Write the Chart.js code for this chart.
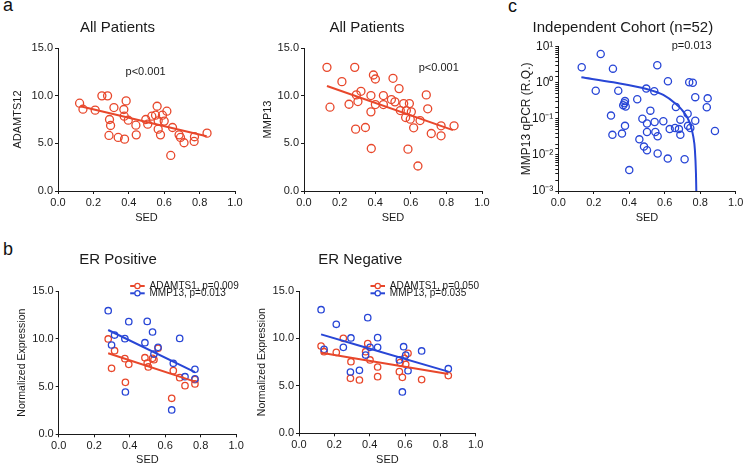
<!DOCTYPE html>
<html>
<head>
<meta charset="utf-8">
<script src="https://cdn.jsdelivr.net/npm/chart.js@4.4.1/dist/chart.umd.min.js"></script>
<style>
  html, body { margin: 0; padding: 0; background: #fff; width: 745px; height: 467px; overflow: hidden; }
  body { position: relative; font-family: "Liberation Sans", Arial, Helvetica, sans-serif; }
  .panel { position: absolute; }
  .tag { position: absolute; font-size: 18px; line-height: 18px; color: #111; }
</style>
</head>
<body>
<div class="tag" style="left:3px;top:-4px">a</div>
<div class="tag" style="left:3px;top:240px">b</div>
<div class="tag" style="left:508px;top:-3px">c</div>

<div class="panel" style="left:0px;top:16px;width:265px;height:214px"><canvas id="a1"></canvas></div>
<div class="panel" style="left:252px;top:16px;width:248px;height:214px"><canvas id="a2"></canvas></div>
<div class="panel" style="left:510px;top:16px;width:255px;height:214px"><canvas id="c1"></canvas></div>
<div class="panel" style="left:0px;top:250px;width:277px;height:217px"><canvas id="b1"></canvas></div>
<div class="panel" style="left:245px;top:250px;width:286px;height:217px"><canvas id="b2"></canvas></div>

<script>
// ---- data ----
// a: all patients
const allSedAdamts = [0.122, 0.141, 0.21, 0.248, 0.28, 0.316, 0.291, 0.297, 0.288, 0.34, 0.376, 0.385, 0.372, 0.374, 0.397, 0.44, 0.442, 0.496,
  0.507, 0.53, 0.551, 0.56, 0.566, 0.566, 0.579, 0.59, 0.6, 0.615, 0.647, 0.637, 0.684, 0.692, 0.712, 0.771, 0.769, 0.842];
const allAdamts12 = [9.21, 8.58, 8.48, 9.98, 9.98, 8.75, 7.5, 6.87, 5.83, 5.62, 5.44, 9.45, 8.55, 7.85, 7.43, 6.9, 5.89, 7.5,
  7.01, 7.85, 7.95, 8.89, 7.36, 6.49, 5.89, 7.95, 7.33, 8.37, 6.66, 3.73, 5.89, 5.62, 5.06, 5.69, 5.2, 6.07];
const allFitAdamtsX = [0.126, 0.84];
const allFitAdamtsY = [8.9, 5.75];

const allSedMmp = [0.129, 0.146, 0.213, 0.253, 0.285, 0.29, 0.294, 0.303, 0.32, 0.345, 0.378, 0.376, 0.376, 0.39, 0.401, 0.401, 0.446, 0.446,
  0.491, 0.5, 0.511, 0.534, 0.541, 0.56, 0.571, 0.575, 0.592, 0.597, 0.603, 0.584, 0.616, 0.64, 0.652, 0.687, 0.695, 0.715, 0.77, 0.77, 0.843];
const allMmp13 = [12.97, 8.79, 11.47, 9.1, 12.97, 6.49, 10.08, 9.38, 10.46, 6.66, 4.46, 8.3, 10.01, 12.17, 11.75, 9.07, 10.01, 9.07,
  9.59, 11.82, 9.35, 10.74, 8.44, 9.17, 7.71, 8.44, 9.17, 7.53, 8.3, 4.39, 6.63, 2.62, 7.39, 10.08, 8.62, 6.03, 5.79, 6.84, 6.84];
const allFitMmpX = [0.129, 0.837];
const allFitMmpY = [11.02, 6.38];

// b: ER positive
const posSedAdamts = [0.279, 0.298, 0.315, 0.373, 0.376, 0.395, 0.486, 0.499, 0.505, 0.529, 0.537, 0.56, 0.637, 0.646, 0.682, 0.712, 0.768, 0.768];
const posAdamts1 = [9.98, 6.91, 8.75, 7.92, 5.44, 7.32, 8.02, 7.46, 7.05, 7.95, 7.81, 9.0, 3.77, 6.66, 5.93, 5.09, 5.72, 5.27];
const posSedMmp = [0.279, 0.298, 0.315, 0.373, 0.376, 0.395, 0.486, 0.499, 0.529, 0.537, 0.56, 0.637, 0.646, 0.682, 0.712, 0.768, 0.768];
const posMmp13 = [12.94, 9.35, 10.39, 10.01, 4.43, 11.79, 9.59, 11.82, 10.71, 8.4, 9.1, 2.55, 7.43, 10.04, 6.03, 6.8, 5.8];
const posFitX = [0.279, 0.768];
const posFitAdamtsY = [8.48, 5.51];
const posFitMmpY = [10.92, 6.5];
const posKeys = ['ADAMTS1, p=0.009', 'MMP13, p=0.013'];

// b: ER negative
const negSedAdamts = [0.125, 0.142, 0.211, 0.251, 0.294, 0.291, 0.342, 0.377, 0.389, 0.402, 0.445, 0.445, 0.568, 0.572, 0.585, 0.596, 0.604, 0.617, 0.694, 0.845];
const negAdamts1 = [9.2, 8.6, 8.53, 10.01, 7.55, 5.8, 5.62, 8.6, 9.45, 7.73, 6.99, 5.97, 6.5, 7.45, 5.9, 7.9, 7.27, 8.43, 5.66, 6.08];
const negSedMmp = [0.125, 0.142, 0.211, 0.251, 0.294, 0.291, 0.342, 0.377, 0.389, 0.402, 0.445, 0.445, 0.568, 0.585, 0.592, 0.604, 0.617, 0.694, 0.845];
const negMmp13 = [13.03, 8.85, 11.49, 9.06, 10.05, 6.46, 6.64, 8.25, 12.19, 9.06, 10.08, 9.06, 7.73, 4.36, 9.13, 8.25, 6.6, 8.68, 6.81];
const negFitX = [0.125, 0.845];
const negFitAdamtsY = [8.5, 6.25];
const negFitMmpY = [10.43, 6.5];
const negKeys = ['ADAMTS1, p=0.050', 'MMP13, p=0.035'];

// c: independent cohort, qPCR on a log axis
const cohortSed = [0.132, 0.239, 0.308, 0.558, 0.211, 0.338, 0.496, 0.541, 0.618, 0.738, 0.758, 0.772, 0.842, 0.837, 0.883,
  0.445, 0.376, 0.372, 0.366, 0.38, 0.297, 0.376, 0.305, 0.359, 0.519, 0.474, 0.5, 0.543, 0.592, 0.457, 0.483, 0.5, 0.5,
  0.547, 0.56, 0.56, 0.628, 0.658, 0.663, 0.68, 0.688, 0.688, 0.729, 0.731, 0.744, 0.772, 0.617, 0.712, 0.4];
const cohortMmp13 = [2.69, 6.28, 2.46, 3.05, 0.6, 0.6, 0.69, 0.58, 1.1, 1.03, 1.0, 0.4, 0.37, 0.21, 0.046,
  0.35, 0.31, 0.27, 0.24, 0.22, 0.123, 0.064, 0.036, 0.039, 0.169, 0.101, 0.074, 0.082, 0.086, 0.027, 0.017, 0.0135, 0.043,
  0.043, 0.033, 0.011, 0.052, 0.056, 0.214, 0.052, 0.095, 0.036, 0.139, 0.064, 0.056, 0.089, 0.0079, 0.0076, 0.0038];
const cohortFitX = [0.13, 0.31, 0.498, 0.592, 0.658, 0.705, 0.742, 0.761, 0.77, 0.776, 0.778];
const cohortFitY = [1.42, 1.03, 0.67, 0.46, 0.27, 0.158, 0.076, 0.032, 0.0138, 0.0031, 0.001];

const xTicks = [0, 0.2, 0.4, 0.6, 0.8, 1.0];

// ---- styling ----
const FONT = '"Liberation Sans", Arial, Helvetica, sans-serif';
const INK = '#1a1a1a';
const RED = '#e8472b';
const BLUE = '#2846d6';

Chart.defaults.font.family = FONT;
Chart.defaults.color = INK;
Chart.defaults.animation = false;

const pts = (xs, ys) => xs.map((x, i) => ({ x: x, y: ys[i] }));
const SUP = { '-': '\u207B', '0': '\u2070', '1': '\u00B9', '2': '\u00B2', '3': '\u00B3' };

function dots(xs, ys, color, r) {
  return { data: pts(xs, ys), borderColor: color, backgroundColor: 'rgba(0,0,0,0)', pointRadius: r, pointBorderWidth: 1.3, showLine: false };
}
function fit(xs, ys, color) {
  return { data: pts(xs, ys), borderColor: color, borderWidth: 2, pointRadius: 0, showLine: true, cubicInterpolationMode: 'monotone' };
}

// p values written inside the plot, placed in data units
const notePlugin = {
  id: 'notes',
  afterDraw(chart, args, opts) {
    if (!opts.items) return;
    const { ctx, scales } = chart;
    opts.items.forEach(n => {
      ctx.save();
      ctx.font = '11px ' + FONT;
      ctx.fillStyle = INK;
      ctx.textAlign = 'center';
      ctx.textBaseline = 'middle';
      ctx.fillText(n.text, scales.x.getPixelForValue(n.x), scales.y.getPixelForValue(n.y));
      ctx.restore();
    });
  }
};

// small line+circle key as in the prism legend
const keyPlugin = {
  id: 'key',
  afterDraw(chart, args, opts) {
    if (!opts.rows) return;
    const { ctx, chartArea } = chart;
    opts.rows.forEach((row, i) => {
      const x0 = chartArea.left + opts.dx;
      const y0 = chartArea.top + opts.dy + i * opts.gap;
      ctx.save();
      ctx.strokeStyle = row.color;
      ctx.lineWidth = 2;
      ctx.beginPath();
      ctx.moveTo(x0, y0);
      ctx.lineTo(x0 + opts.len, y0);
      ctx.stroke();
      ctx.beginPath();
      ctx.arc(x0 + opts.len / 2, y0, 2.6, 0, Math.PI * 2);
      ctx.fillStyle = '#fff';
      ctx.fill();
      ctx.lineWidth = 1.2;
      ctx.stroke();
      ctx.font = '10px ' + FONT;
      ctx.fillStyle = INK;
      ctx.textAlign = 'left';
      ctx.textBaseline = 'middle';
      ctx.fillText(row.text, x0 + opts.textDx, y0);
      ctx.restore();
    });
  }
};

function makePanel(id, p) {
  const yAxis = p.log ? {
    type: 'logarithmic', min: 0.001, max: 10,
    ticks: {
      autoSkip: false, padding: 2, font: { size: 12 }, color: INK,
      callback: v => {
        const e = Math.log10(v);
        if (Math.abs(e - Math.round(e)) > 1e-6) return '';
        return '10' + String(Math.round(e)).split('').map(ch => SUP[ch]).join('');
      }
    }
  } : {
    type: 'linear', min: 0, max: 15,
    ticks: { stepSize: 5, padding: 2, font: { size: 11 }, color: INK, callback: v => v.toFixed(1) }
  };
  Object.assign(yAxis, {
    afterFit: s => { s.width = p.yW; },
    border: { display: true, color: INK, width: 1 },
    grid: { drawOnChartArea: false, drawTicks: true, tickLength: 3, color: INK },
    title: { display: true, text: p.yTitle, font: { size: p.yTitleSize }, color: INK, padding: { top: p.yTitlePad, bottom: 0 } }
  });

  return new Chart(document.getElementById(id), {
    type: 'scatter',
    data: { datasets: p.datasets },
    options: {
      responsive: true,
      maintainAspectRatio: false,
      layout: { padding: { left: 0, right: p.pr, top: 0, bottom: 0 } },
      scales: {
        x: {
          type: 'linear', min: 0, max: 1,
          afterFit: s => { s.height = p.xH; },
          afterBuildTicks: s => { s.ticks = xTicks.map(v => ({ value: v })); },
          border: { display: true, color: INK, width: 1 },
          grid: { drawOnChartArea: false, drawTicks: true, tickLength: 3, color: INK },
          ticks: { padding: 2, font: { size: 11 }, color: INK, maxRotation: 0, callback: v => v.toFixed(1) },
          title: { display: true, text: 'SED', font: { size: 11 }, color: INK, padding: { top: 0, bottom: p.xTitlePad } }
        },
        y: yAxis
      },
      plugins: {
        legend: { display: false },
        tooltip: { enabled: false },
        title: { display: true, text: p.title, font: { size: 15, weight: 'normal' }, color: INK, padding: { top: p.titleTop || 0, bottom: p.titlePad } },
        notes: { items: p.notes || [] },
        key: p.key || {}
      }
    },
    plugins: [notePlugin, keyPlugin]
  });
}

makePanel('a1', {
  title: 'All Patients', titleTop: 3, titlePad: 11, yTitle: 'ADAMTS12', yTitleSize: 11, yTitlePad: 11.7,
  yW: 58, xH: 39, pr: 30, xTitlePad: 5.1,
  notes: [{ text: 'p<0.001', x: 0.495, y: 12.5 }],
  datasets: [fit(allFitAdamtsX, allFitAdamtsY, RED), dots(allSedAdamts, allAdamts12, RED, 4)]
});

makePanel('a2', {
  title: 'All Patients', titleTop: 3, titlePad: 11, yTitle: 'MMP13', yTitleSize: 11, yTitlePad: 9.4,
  yW: 52, xH: 39, pr: 18, xTitlePad: 5.1,
  notes: [{ text: 'p<0.001', x: 0.757, y: 12.9 }],
  datasets: [fit(allFitMmpX, allFitMmpY, RED), dots(allSedMmp, allMmp13, RED, 4)]
});

makePanel('c1', {
  title: 'Independent Cohort (n=52)', titleTop: 3, titlePad: 9.7, yTitle: 'MMP13 qPCR (R.Q.)', yTitleSize: 12, yTitlePad: 9.8,
  yW: 48.3, xH: 39, pr: 29.3, xTitlePad: 5.1, log: true,
  notes: [{ text: 'p=0.013', x: 0.752, y: 10.45 }],
  datasets: [fit(cohortFitX, cohortFitY, BLUE), dots(cohortSed, cohortMmp13, BLUE, 3.6)]
});

makePanel('b1', {
  title: 'ER Positive', titleTop: 1, titlePad: 22, yTitle: 'Normalized Expression', yTitleSize: 10.5, yTitlePad: 15.4,
  yW: 58.7, xH: 32.7, pr: 40.9, xTitlePad: 0.4,
  key: { dx: 71.5, dy: -5, gap: 7.3, len: 14.5, textDx: 19.3, rows: [{ text: posKeys[0], color: RED }, { text: posKeys[1], color: BLUE }] },
  datasets: [
    fit(posFitX, posFitMmpY, BLUE), fit(posFitX, posFitAdamtsY, RED),
    dots(posSedMmp, posMmp13, BLUE, 3.2), dots(posSedAdamts, posAdamts1, RED, 3.2)
  ]
});

makePanel('b2', {
  title: 'ER Negative', titleTop: 1, titlePad: 22, yTitle: 'Normalized Expression', yTitleSize: 10.5, yTitlePad: 10.4,
  yW: 54, xH: 33.7, pr: 55.3, xTitlePad: 0.4,
  key: { dx: 71.5, dy: -5, gap: 7.3, len: 14.5, textDx: 19.3, rows: [{ text: negKeys[0], color: RED }, { text: negKeys[1], color: BLUE }] },
  datasets: [
    fit(negFitX, negFitMmpY, BLUE), fit(negFitX, negFitAdamtsY, RED),
    dots(negSedMmp, negMmp13, BLUE, 3.2), dots(negSedAdamts, negAdamts1, RED, 3.2)
  ]
});
</script>
</body>
</html>
